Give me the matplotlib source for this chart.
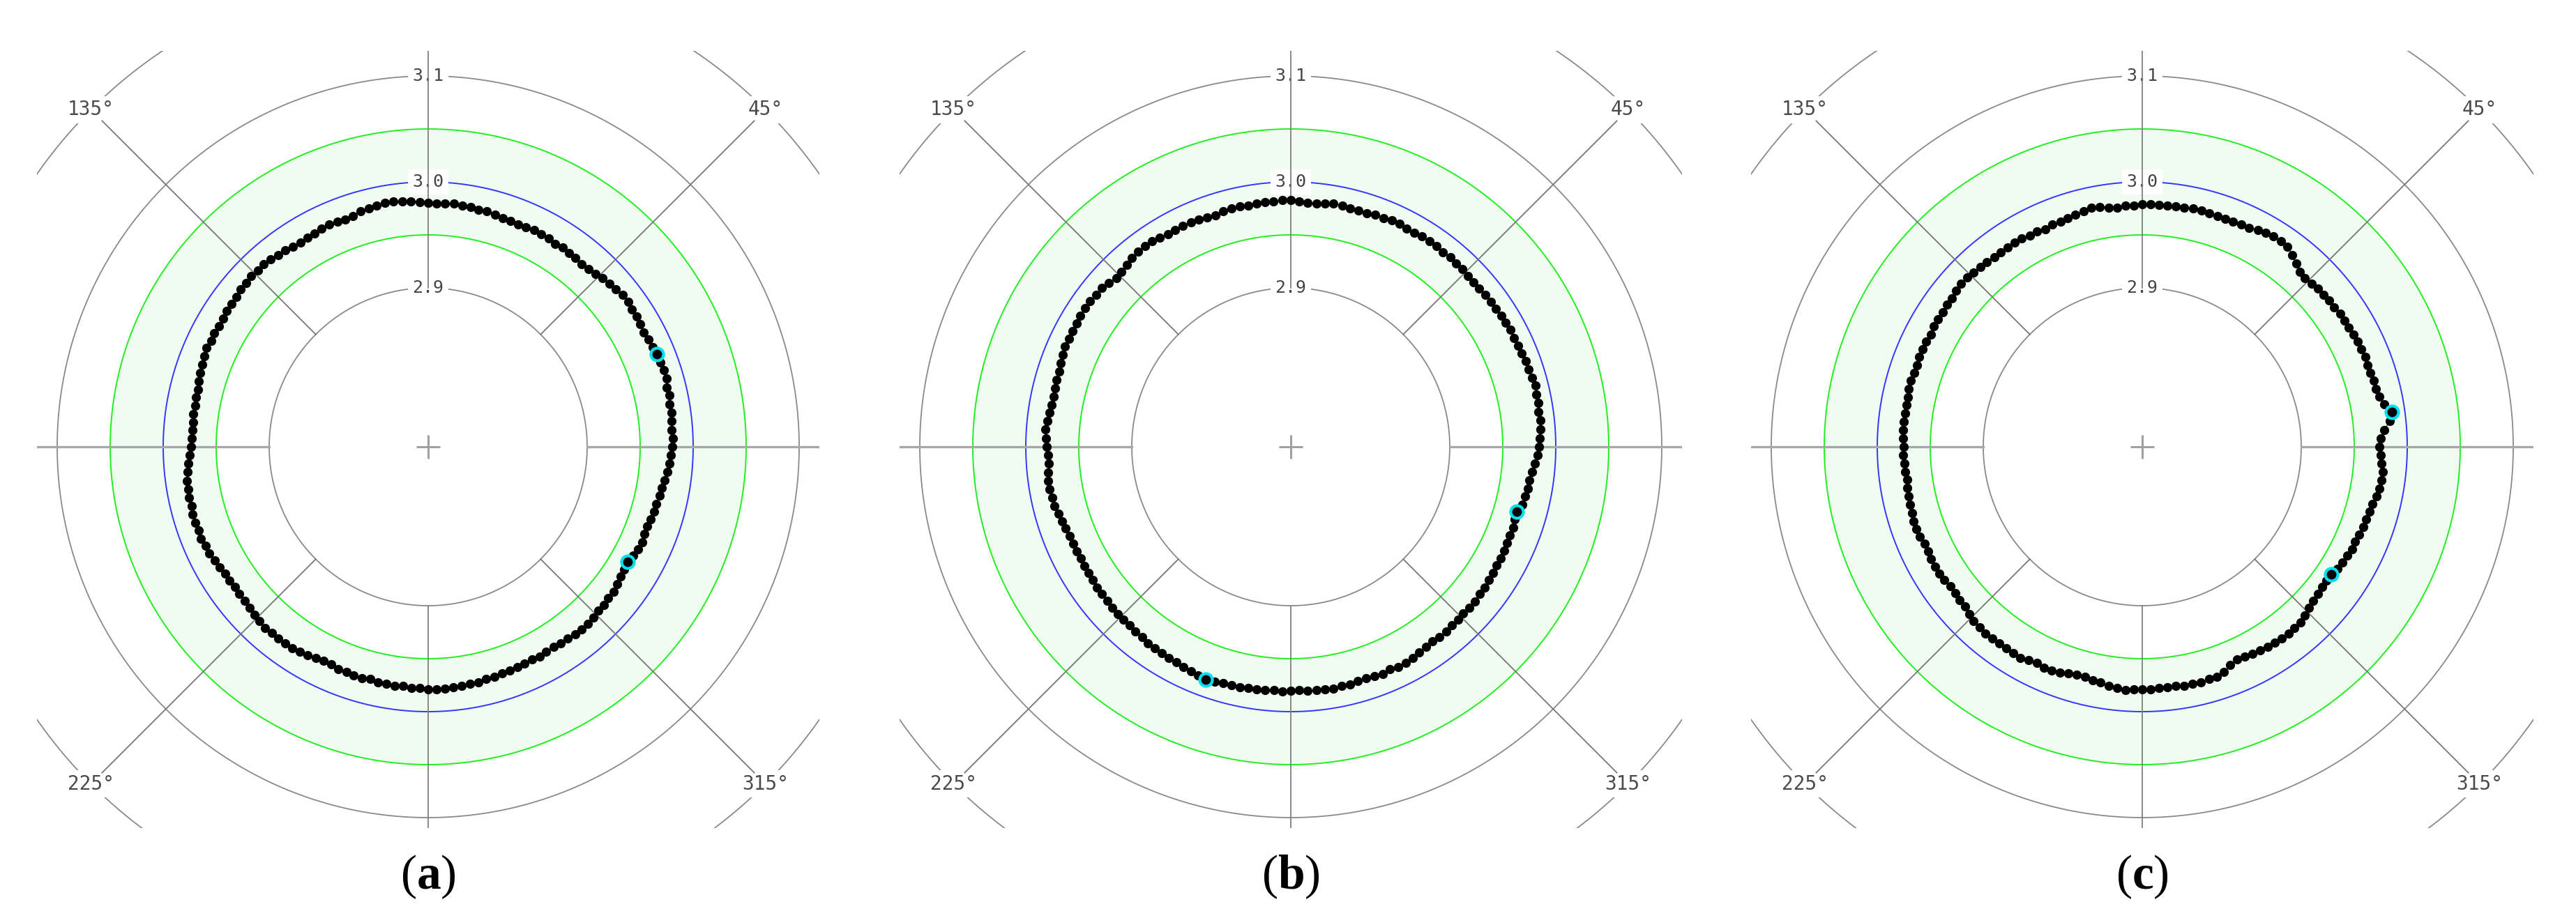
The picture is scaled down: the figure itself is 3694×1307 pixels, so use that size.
import numpy as np
import matplotlib.pyplot as plt
from matplotlib.patches import Rectangle

plt.rcParams['mathtext.fontset'] = 'custom'
plt.rcParams['mathtext.rm'] = 'Liberation Serif'
plt.rcParams['mathtext.bf'] = 'Liberation Serif:bold'

# measured radius (mm) every 2 degrees, counter-clockwise from 0 deg
angles = np.arange(0, 360, 2)

radius_a = [
    2.980, 2.981, 2.980, 2.981, 2.982, 2.981, 2.983, 2.982, 2.984, 2.984,
    2.983, 2.983, 2.982, 2.981, 2.980, 2.981, 2.982, 2.982, 2.983, 2.983,
    2.981, 2.980, 2.979, 2.977, 2.976, 2.975, 2.976, 2.976, 2.977, 2.976,
    2.977, 2.977, 2.978, 2.977, 2.976, 2.977, 2.977, 2.978, 2.979, 2.979,
    2.980, 2.980, 2.981, 2.980, 2.980, 2.980, 2.981, 2.982, 2.983, 2.984,
    2.984, 2.983, 2.982, 2.981, 2.979, 2.978, 2.979, 2.980, 2.979, 2.978,
    2.978, 2.977, 2.978, 2.979, 2.980, 2.981, 2.982, 2.981, 2.982, 2.981,
    2.981, 2.980, 2.979, 2.979, 2.978, 2.978, 2.979, 2.978, 2.979, 2.978,
    2.977, 2.976, 2.975, 2.974, 2.974, 2.973, 2.974, 2.973, 2.973, 2.973,
    2.974, 2.975, 2.977, 2.978, 2.980, 2.980, 2.981, 2.980, 2.981, 2.981,
    2.980, 2.981, 2.980, 2.980, 2.978, 2.977, 2.976, 2.976, 2.975, 2.976,
    2.976, 2.977, 2.978, 2.979, 2.980, 2.979, 2.980, 2.979, 2.979, 2.978,
    2.977, 2.976, 2.975, 2.975, 2.976, 2.976, 2.977, 2.977, 2.976, 2.977,
    2.977, 2.978, 2.977, 2.978, 2.978, 2.979, 2.979, 2.979, 2.978, 2.978,
    2.977, 2.977, 2.976, 2.976, 2.975, 2.975, 2.974, 2.974, 2.973, 2.974,
    2.973, 2.973, 2.974, 2.974, 2.975, 2.975, 2.975, 2.974, 2.973, 2.973,
    2.972, 2.972, 2.970, 2.969, 2.968, 2.967, 2.969, 2.970, 2.971, 2.970,
    2.970, 2.971, 2.972, 2.972, 2.973, 2.974, 2.975, 2.977, 2.978, 2.979,
]

radius_b = [
    2.984, 2.985, 2.986, 2.987, 2.986, 2.987, 2.987, 2.988, 2.987, 2.986,
    2.986, 2.985, 2.985, 2.984, 2.985, 2.984, 2.984, 2.983, 2.983, 2.983,
    2.982, 2.982, 2.982, 2.983, 2.983, 2.984, 2.983, 2.984, 2.984, 2.984,
    2.983, 2.983, 2.984, 2.984, 2.983, 2.983, 2.982, 2.982, 2.982, 2.983,
    2.983, 2.982, 2.981, 2.981, 2.982, 2.983, 2.983, 2.982, 2.982, 2.982,
    2.981, 2.982, 2.982, 2.981, 2.980, 2.980, 2.981, 2.982, 2.982, 2.982,
    2.982, 2.983, 2.984, 2.984, 2.984, 2.983, 2.981, 2.980, 2.979, 2.981,
    2.983, 2.983, 2.984, 2.984, 2.984, 2.983, 2.983, 2.983, 2.983, 2.982,
    2.981, 2.980, 2.980, 2.979, 2.979, 2.979, 2.980, 2.981, 2.982, 2.981,
    2.980, 2.979, 2.979, 2.980, 2.981, 2.981, 2.980, 2.980, 2.978, 2.977,
    2.976, 2.975, 2.975, 2.975, 2.974, 2.975, 2.975, 2.975, 2.976, 2.976,
    2.976, 2.977, 2.977, 2.977, 2.977, 2.978, 2.978, 2.979, 2.979, 2.980,
    2.980, 2.980, 2.981, 2.982, 2.983, 2.984, 2.983, 2.982, 2.982, 2.982,
    2.981, 2.981, 2.981, 2.980, 2.981, 2.980, 2.980, 2.981, 2.981, 2.981,
    2.982, 2.981, 2.981, 2.980, 2.980, 2.980, 2.981, 2.980, 2.981, 2.981,
    2.980, 2.979, 2.978, 2.977, 2.978, 2.978, 2.977, 2.977, 2.976, 2.977,
    2.977, 2.976, 2.976, 2.975, 2.975, 2.974, 2.974, 2.974, 2.973, 2.973,
    2.973, 2.972, 2.972, 2.975, 2.976, 2.977, 2.977, 2.979, 2.981, 2.983,
]

radius_c = [
    2.974, 2.975, 2.979, 2.985, 2.988, 2.982, 2.979, 2.977, 2.977, 2.976,
    2.976, 2.977, 2.976, 2.976, 2.976, 2.975, 2.975, 2.975, 2.974, 2.974,
    2.973, 2.973, 2.972, 2.971, 2.972, 2.976, 2.980, 2.983, 2.984, 2.984,
    2.983, 2.982, 2.980, 2.980, 2.979, 2.979, 2.979, 2.979, 2.980, 2.980,
    2.979, 2.979, 2.979, 2.979, 2.979, 2.979, 2.978, 2.978, 2.977, 2.978,
    2.980, 2.981, 2.979, 2.978, 2.977, 2.976, 2.976, 2.975, 2.976, 2.976,
    2.977, 2.977, 2.977, 2.977, 2.977, 2.978, 2.978, 2.979, 2.980, 2.980,
    2.979, 2.978, 2.978, 2.977, 2.977, 2.977, 2.976, 2.977, 2.977, 2.977,
    2.976, 2.976, 2.977, 2.977, 2.976, 2.976, 2.976, 2.976, 2.976, 2.976,
    2.975, 2.976, 2.975, 2.975, 2.974, 2.975, 2.975, 2.976, 2.976, 2.977,
    2.977, 2.976, 2.975, 2.975, 2.976, 2.976, 2.976, 2.975, 2.974, 2.974,
    2.975, 2.975, 2.977, 2.979, 2.979, 2.980, 2.980, 2.979, 2.979, 2.980,
    2.980, 2.978, 2.977, 2.978, 2.978, 2.977, 2.975, 2.974, 2.974, 2.975,
    2.976, 2.978, 2.979, 2.980, 2.979, 2.979, 2.979, 2.978, 2.978, 2.978,
    2.979, 2.979, 2.979, 2.978, 2.978, 2.976, 2.972, 2.970, 2.970, 2.971,
    2.972, 2.973, 2.973, 2.974, 2.974, 2.973, 2.973, 2.971, 2.969, 2.967,
    2.966, 2.965, 2.965, 2.965, 2.967, 2.968, 2.969, 2.970, 2.970, 2.971,
    2.972, 2.972, 2.973, 2.974, 2.976, 2.977, 2.978, 2.978, 2.976, 2.975,
]

# points ringed in cyan (deg)
marked_a = [22, 330]
marked_b = [250, 344]
marked_c = [8, 326]

panels = ['a', 'b', 'c']
profiles = [radius_a, radius_b, radius_c]
marks = [marked_a, marked_b, marked_c]

nominal = 3.0
tol_low, tol_high = 2.95, 3.05
grey_rings = [2.9, 3.1, 3.2]
ring_text = ['2.9', '3.0', '3.1']
ring_text_r = [2.9, 3.0, 3.1]
angle_text = ['45°', '135°', '225°', '315°']
angle_text_deg = [45, 135, 225, 315]

W, H = 3694, 1307
fig = plt.figure(figsize=(W / 100, H / 100), dpi=100)

r0, rmax = 2.75, 3.3
scale = 1520  # px per mm
R = (rmax - r0) * scale
centers = [(614, 641), (1851, 641), (3072, 641)]
clip_top, clip_bottom, clip_half = 73, 1188, 561

grey = '#8a8a8a'
th = np.linspace(0, 2 * np.pi, 721)

for name, prof, mk, (cx, cy) in zip(panels, profiles, marks, centers):
    ax = fig.add_axes([(cx - R) / W, 1 - (cy + R) / H, 2 * R / W, 2 * R / H],
                      projection='polar')
    ax.set_ylim(r0, rmax)
    ax.set_axis_off()

    ax.fill_between(th, tol_low, tol_high, color='#effcef', lw=0, zorder=1)
    for rr in grey_rings:
        ax.plot(th, np.full_like(th, rr), color=grey, lw=1.3, zorder=2)
    for rr in (tol_low, tol_high):
        ax.plot(th, np.full_like(th, rr), color='#22ee22', lw=1.4, zorder=2)
    ax.plot(th, np.full_like(th, nominal), color='#3535ff', lw=1.4, zorder=2)

    # spokes
    for deg in range(0, 360, 45):
        t = np.radians(deg)
        if deg % 90:
            ax.plot([t, t], [2.9, 3.185], color='#777777', lw=1.3, zorder=3.5)
        elif deg in (0, 180):
            ax.plot([t, t], [2.9, 3.3], color='#a8a8a8', lw=2.4, zorder=3.5)
        else:
            ax.plot([t, t], [2.9, 3.3], color='#808080', lw=1.3, zorder=3.5)

    ax.plot([0], [r0], marker='+', ms=24, mew=2.2, color='#a0a0a0', zorder=3)

    for s, rr in zip(ring_text, ring_text_r):
        ax.text(np.pi / 2, rr, s, ha='center', va='center', fontsize=18,
                family='DejaVu Sans Mono', color='#444444', zorder=3,
                bbox=dict(boxstyle='square,pad=0.25', fc='white', ec='none'))
    for s, deg in zip(angle_text, angle_text_deg):
        ax.text(np.radians(deg), 3.2, s, ha='center', va='center', fontsize=20,
                family='DejaVu Sans Mono', color='#4a4a4a', zorder=3,
                bbox=dict(boxstyle='square,pad=0.2', fc='white', ec='none'))

    t_data = np.radians(angles)
    r_data = np.array(prof)
    ax.plot(np.append(t_data, t_data[0]), np.append(r_data, r_data[0]),
            color='#333333', lw=0.9, zorder=4)
    ax.plot(t_data, r_data, 'o', ms=8.5, color='black', mec='black', zorder=5)
    idx = np.searchsorted(angles, mk)
    ax.plot(t_data[idx], r_data[idx], 'o', ms=13, mfc='black', mec='#00e0f0',
            mew=3, zorder=6)

    clip = Rectangle(((cx - clip_half) / W, 1 - clip_bottom / H),
                     2 * clip_half / W, (clip_bottom - clip_top) / H,
                     transform=fig.transFigure)
    for art in ax.lines + ax.collections:
        art.set_clip_path(clip)

    fig.text(cx / W, 1 - 1258 / H, r'($\mathbf{' + name + '}$)', ha='center',
             va='center', fontsize=50, family='Liberation Serif')

fig.savefig('out.png', dpi=100)
